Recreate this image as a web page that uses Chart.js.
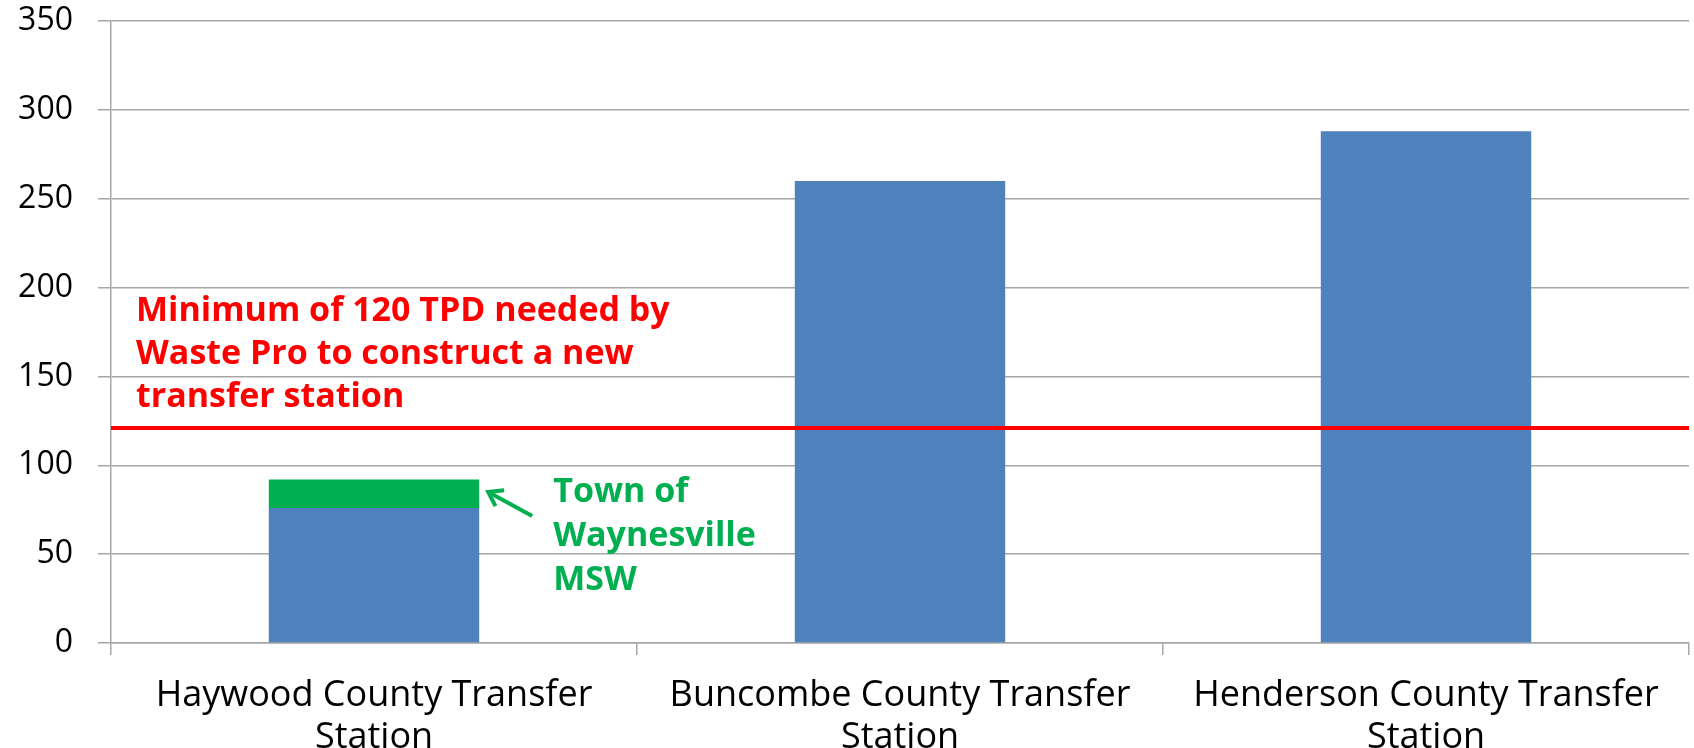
<!DOCTYPE html>
<html>
<head>
<meta charset="utf-8">
<script src="https://cdn.jsdelivr.net/npm/chart.js@4.4.1/dist/chart.umd.min.js"></script>
<style>
  html, body { margin: 0; padding: 0; background: #fff; }
  #wrap { width: 1694px; height: 748px; }
</style>
</head>
<body>
<div id="wrap"><canvas id="tpdChart"></canvas></div>
<script>
// donnees
const stations = [
    ['Haywood County Transfer', 'Station'],
    ['Buncombe County Transfer', 'Station'],
    ['Henderson County Transfer', 'Station']
];
const baseTPD = [76, 260, 288];
const waynesvilleTPD = [16, 0, 0];
const minimumTPD = 121;
const yTicks = [0, 50, 100, 150, 200, 250, 300, 350];
const redNote = ['Minimum of 120 TPD needed by', 'Waste Pro to construct a new', 'transfer station'];
const greenNote = ['Town of', 'Waynesville', 'MSW'];

const FONT = '"Open Sans", "Liberation Sans", sans-serif';
const BLUE = '#4F81BD';
const GREEN = '#00B050';
const RED = '#FF0000';
const GRID = '#A6A6A6';

// ligne rouge + annotations
const annotations = {
    id: 'annotations',
    afterDatasetsDraw(chart) {
        const { ctx, chartArea, scales } = chart;
        const y = scales.y;
        ctx.save();

        // ligne du minimum
        const yLine = y.getPixelForValue(minimumTPD);
        ctx.strokeStyle = RED;
        ctx.lineWidth = 4;
        ctx.beginPath();
        ctx.moveTo(chartArea.left, yLine);
        ctx.lineTo(chartArea.right, yLine);
        ctx.stroke();

        ctx.font = 'bold 34px ' + FONT;
        ctx.textBaseline = 'middle';
        ctx.textAlign = 'left';
        ctx.fillStyle = RED;
        redNote.forEach((t, i) => {
            ctx.fillText(t, chartArea.left + 25, yLine - 117 + i * 43);
        });

        // fleche vers la part de Waynesville
        const bar = chart.getDatasetMeta(1).data[0];
        const barRight = bar.x + bar.width / 2;
        const hx = barRight + 9;
        const hy = y.getPixelForValue(85);
        const tx = hx + 44;
        const ty = hy + 24;
        ctx.strokeStyle = GREEN;
        ctx.lineWidth = 4;
        ctx.beginPath();
        ctx.moveTo(tx, ty);
        ctx.lineTo(hx, hy);
        ctx.stroke();
        const ang = Math.atan2(ty - hy, tx - hx);
        ctx.beginPath();
        ctx.moveTo(hx + 16 * Math.cos(ang - 0.6), hy + 16 * Math.sin(ang - 0.6));
        ctx.lineTo(hx, hy);
        ctx.lineTo(hx + 16 * Math.cos(ang + 0.6), hy + 16 * Math.sin(ang + 0.6));
        ctx.stroke();

        ctx.fillStyle = GREEN;
        greenNote.forEach((t, i) => {
            ctx.fillText(t, barRight + 74, hy + i * 44);
        });
        ctx.restore();
    }
};

// on annule les marges automatiques des axes
function noPad(s) {
    s.paddingTop = 0;
    s.paddingBottom = 0;
    s.paddingLeft = 0;
    s.paddingRight = 0;
}

new Chart(document.getElementById('tpdChart').getContext('2d'), {
    type: 'bar',
    data: {
        labels: stations,
        datasets: [
            { label: 'Base', data: baseTPD, backgroundColor: BLUE, categoryPercentage: 1, barPercentage: 0.4 },
            { label: 'Town of Waynesville MSW', data: waynesvilleTPD, backgroundColor: GREEN, categoryPercentage: 1, barPercentage: 0.4 }
        ]
    },
    options: {
        responsive: true,
        maintainAspectRatio: false,
        animation: false,
        layout: { padding: { top: 21, right: 5, left: 0, bottom: 0 } },
        plugins: {
            legend: { display: false },
            tooltip: { enabled: false }
        },
        scales: {
            x: {
                stacked: true,
                grid: { offset: true, drawOnChartArea: false, drawTicks: true, tickLength: 12, color: GRID, lineWidth: 1.5 },
                border: { color: GRID, width: 1.5 },
                ticks: { color: '#000', font: { family: FONT, size: 36, lineHeight: '42px' }, padding: 20, maxRotation: 0, autoSkip: false },
                afterFit: (s) => { s.height = 105; noPad(s); }
            },
            y: {
                stacked: true,
                min: 0,
                max: 350,
                afterBuildTicks: (s) => { s.ticks = yTicks.map(v => ({ value: v })); },
                grid: { color: GRID, lineWidth: 1.5, tickLength: 13 },
                border: { color: GRID, width: 1.5 },
                ticks: { color: '#000', font: { family: FONT, size: 32 }, padding: 25 },
                afterFit: (s) => { s.width = 111; noPad(s); }
            }
        }
    },
    plugins: [annotations]
});
</script>
</body>
</html>
